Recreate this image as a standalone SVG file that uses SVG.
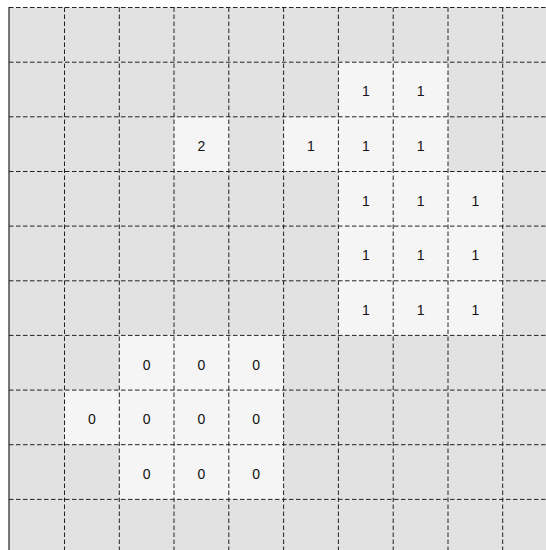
<svg xmlns="http://www.w3.org/2000/svg" width="546" height="550" viewBox="0 0 546 550">
<style>
.bg{fill:#e2e2e2}
.lit{fill:#f5f5f5}
.grid line{stroke:#222;stroke-width:1;stroke-dasharray:4.5,2.5}
.spine{stroke:#222;stroke-width:1.2}
text{font-family:"Liberation Sans",Arial,sans-serif;font-size:14px;fill:#111;text-anchor:middle}
</style>
<rect width="546" height="550" fill="#ffffff"/>
<rect class="bg" x="9" y="7.5" width="537" height="542.5"/>
<g id="cells">
<rect class="lit" x="338.4" y="62.2" width="54.8" height="54.6"/>
<rect class="lit" x="393.2" y="62.2" width="54.8" height="54.6"/>
<rect class="lit" x="174.0" y="116.8" width="54.8" height="54.7"/>
<rect class="lit" x="283.6" y="116.8" width="54.8" height="54.7"/>
<rect class="lit" x="338.4" y="116.8" width="54.8" height="54.7"/>
<rect class="lit" x="393.2" y="116.8" width="54.8" height="54.7"/>
<rect class="lit" x="338.4" y="171.5" width="164.3" height="163.9"/>
<rect class="lit" x="119.3" y="335.4" width="164.3" height="164"/>
<rect class="lit" x="64.5" y="390.1" width="54.8" height="54.6"/>
</g>
<g id="grid" class="grid">
<line x1="9" y1="7.5" x2="546" y2="7.5"/>
<line x1="9" y1="62.2" x2="546" y2="62.2"/>
<line x1="9" y1="116.8" x2="546" y2="116.8"/>
<line x1="9" y1="171.5" x2="546" y2="171.5"/>
<line x1="9" y1="226.1" x2="546" y2="226.1"/>
<line x1="9" y1="280.8" x2="546" y2="280.8"/>
<line x1="9" y1="335.4" x2="546" y2="335.4"/>
<line x1="9" y1="390.1" x2="546" y2="390.1"/>
<line x1="9" y1="444.7" x2="546" y2="444.7"/>
<line x1="9" y1="499.4" x2="546" y2="499.4"/>
<line x1="64.5" y1="7.5" x2="64.5" y2="550"/>
<line x1="119.3" y1="7.5" x2="119.3" y2="550"/>
<line x1="174.0" y1="7.5" x2="174.0" y2="550"/>
<line x1="228.8" y1="7.5" x2="228.8" y2="550"/>
<line x1="283.6" y1="7.5" x2="283.6" y2="550"/>
<line x1="338.4" y1="7.5" x2="338.4" y2="550"/>
<line x1="393.2" y1="7.5" x2="393.2" y2="550"/>
<line x1="448.0" y1="7.5" x2="448.0" y2="550"/>
<line x1="502.7" y1="7.5" x2="502.7" y2="550"/>
</g>
<line class="spine" x1="9" y1="7" x2="9" y2="550"/>
<g id="labels">
<text x="365.8" y="96.3">1</text>
<text x="420.6" y="96.3">1</text>
<text x="201.4" y="150.9">2</text>
<text x="311.0" y="150.9">1</text>
<text x="365.8" y="150.9">1</text>
<text x="420.6" y="150.9">1</text>
<text x="365.8" y="205.6">1</text>
<text x="420.6" y="205.6">1</text>
<text x="475.4" y="205.6">1</text>
<text x="365.8" y="260.2">1</text>
<text x="420.6" y="260.2">1</text>
<text x="475.4" y="260.2">1</text>
<text x="365.8" y="314.9">1</text>
<text x="420.6" y="314.9">1</text>
<text x="475.4" y="314.9">1</text>
<text x="146.7" y="369.5">0</text>
<text x="201.4" y="369.5">0</text>
<text x="256.2" y="369.5">0</text>
<text x="91.9" y="424.2">0</text>
<text x="146.7" y="424.2">0</text>
<text x="201.4" y="424.2">0</text>
<text x="256.2" y="424.2">0</text>
<text x="146.7" y="478.8">0</text>
<text x="201.4" y="478.8">0</text>
<text x="256.2" y="478.8">0</text>
</g>
</svg>
